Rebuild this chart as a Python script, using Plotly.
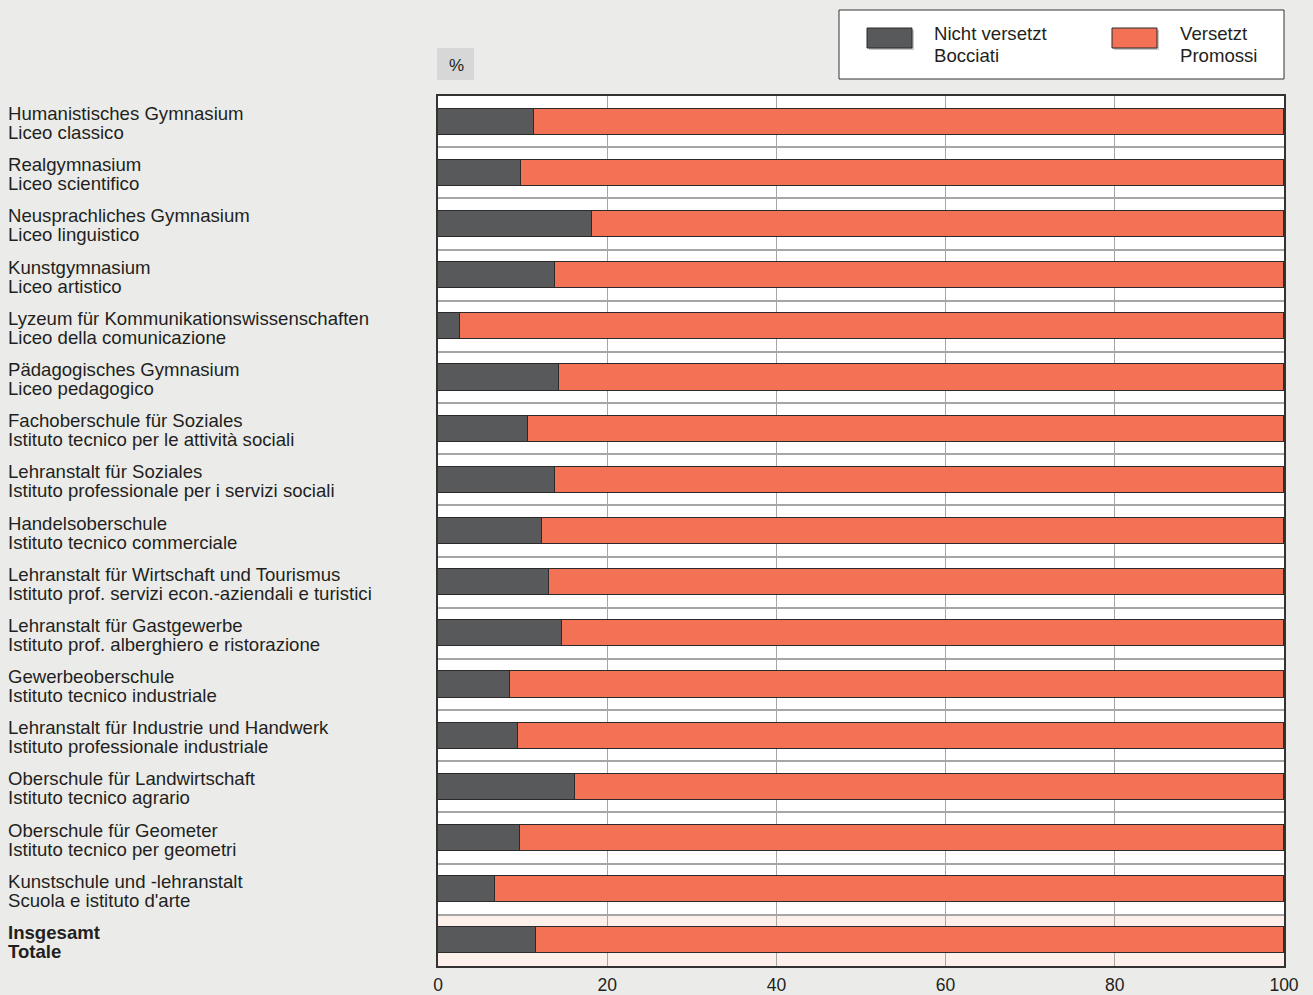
import plotly.graph_objects as go

labels_de = [
    "Humanistisches Gymnasium", "Realgymnasium", "Neusprachliches Gymnasium",
    "Kunstgymnasium", "Lyzeum für Kommunikationswissenschaften",
    "Pädagogisches Gymnasium", "Fachoberschule für Soziales",
    "Lehranstalt für Soziales", "Handelsoberschule",
    "Lehranstalt für Wirtschaft und Tourismus", "Lehranstalt für Gastgewerbe",
    "Gewerbeoberschule", "Lehranstalt für Industrie und Handwerk",
    "Oberschule für Landwirtschaft", "Oberschule für Geometer",
    "Kunstschule und -lehranstalt", "Insgesamt",
]
labels_it = [
    "Liceo classico", "Liceo scientifico", "Liceo linguistico",
    "Liceo artistico", "Liceo della comunicazione", "Liceo pedagogico",
    "Istituto tecnico per le attività sociali",
    "Istituto professionale per i servizi sociali",
    "Istituto tecnico commerciale",
    "Istituto prof. servizi econ.-aziendali e turistici",
    "Istituto prof. alberghiero e ristorazione",
    "Istituto tecnico industriale", "Istituto professionale industriale",
    "Istituto tecnico agrario", "Istituto tecnico per geometri",
    "Scuola e istituto d'arte", "Totale",
]
nicht_versetzt = [11.4, 9.8, 18.2, 13.8, 2.6, 14.3, 10.6, 13.8, 12.3,
                  13.1, 14.7, 8.5, 9.4, 16.2, 9.7, 6.7, 11.6]
versetzt = [round(100 - v, 1) for v in nicht_versetzt]
series_names = [("Nicht versetzt", "Bocciati"), ("Versetzt", "Promossi")]
x_ticks = [0, 20, 40, 60, 80, 100]

GRAY = "#58595b"
ORANGE = "#f37155"
BG = "#ebecea"
TXT = "#231f20"
FONT = "Liberation Sans, Arial, sans-serif"

W, H = 1313, 995
L, R, T, B = 438, 29, 96, 29
PW, PH = W - L - R, H - T - B

def px_x(p):
    return (p - L) / PW

def px_y(p):
    return (H - B - p) / PH

ypos = list(range(len(labels_de)))

fig = go.Figure()
fig.add_trace(go.Bar(
    y=ypos, x=nicht_versetzt, orientation="h", name=series_names[0][0],
    marker=dict(color=GRAY, line=dict(color="#2b2b2b", width=1)),
    width=0.51, showlegend=False, hoverinfo="x",
))
fig.add_trace(go.Bar(
    y=ypos, x=versetzt, orientation="h", name=series_names[1][0],
    marker=dict(color=ORANGE, line=dict(color="#2b2b2b", width=1)),
    width=0.51, showlegend=False, hoverinfo="x",
))

shapes = []
annotations = []

# highlighted total row
n = len(labels_de)
shapes.append(dict(type="rect", xref="x", yref="y", x0=0, x1=100,
                   y0=n - 1.5, y1=n - 0.5, fillcolor="#fdf0ea",
                   line=dict(width=0), layer="below"))

# category labels
for i, (de, it) in enumerate(zip(labels_de, labels_it)):
    bold = i == n - 1
    for txt, sh in ((de, 8), (it, -11)):
        annotations.append(dict(
            xref="paper", yref="y", x=px_x(6), y=i, yshift=sh,
            xanchor="left", yanchor="middle", showarrow=False,
            text=f"<b>{txt}</b>" if bold else txt,
            font=dict(family=FONT, size=18.6, color=TXT),
        ))

# "%" box
shapes.append(dict(type="rect", xref="paper", yref="paper",
                   x0=px_x(437), x1=px_x(474), y0=px_y(80), y1=px_y(48),
                   fillcolor="#d6d7d6", line=dict(width=0)))
annotations.append(dict(xref="paper", yref="paper", x=px_x(456), y=px_y(66),
                        text="%", showarrow=False, xanchor="center",
                        yanchor="middle",
                        font=dict(family=FONT, size=17, color=TXT)))

# legend box
shapes.append(dict(type="rect", xref="paper", yref="paper",
                   x0=px_x(839), x1=px_x(1284), y0=px_y(79), y1=px_y(10),
                   fillcolor="white", line=dict(color="#333333", width=1)))
for (sx, tx), col, (n1, n2) in zip(((867, 932), (1112, 1178)), (GRAY, ORANGE),
                                   series_names):
    shapes.append(dict(type="rect", xref="paper", yref="paper",
                       x0=px_x(sx + 2), x1=px_x(sx + 47), y0=px_y(50),
                       y1=px_y(30), fillcolor="#c8c8c8", line=dict(width=0)))
    shapes.append(dict(type="rect", xref="paper", yref="paper",
                       x0=px_x(sx), x1=px_x(sx + 45), y0=px_y(48), y1=px_y(28),
                       fillcolor=col, line=dict(color="#2b2b2b", width=1)))
    for txt, py in ((n1, 34), (n2, 55)):
        annotations.append(dict(xref="paper", yref="paper", x=px_x(tx),
                                y=px_y(py), text=txt, showarrow=False,
                                xanchor="left", yanchor="middle",
                                font=dict(family=FONT, size=18.6, color=TXT)))

fig.update_layout(
    width=W, height=H, barmode="stack", bargap=0,
    margin=dict(l=L, r=R, t=T, b=B, pad=0),
    paper_bgcolor=BG, plot_bgcolor="white",
    font=dict(family=FONT, size=17, color=TXT),
    shapes=shapes, annotations=annotations,
    xaxis=dict(range=[0, 100], tickvals=x_ticks, showgrid=True,
               gridcolor="#a6a6a6", gridwidth=1, zeroline=False,
               showline=True, linecolor="#333333", linewidth=1.5, mirror=True,
               ticks="", ticklabelstandoff=2, automargin=False,
               tickfont=dict(family=FONT, size=17.5, color=TXT),
               fixedrange=True),
    yaxis=dict(range=[n - 0.5, -0.5], tickvals=[i + 0.5 for i in range(n - 1)],
               showticklabels=False, showgrid=True, gridcolor="#a6a6a6",
               gridwidth=1.5, zeroline=False, showline=True,
               linecolor="#333333", linewidth=1.5, mirror=True, ticks="",
               automargin=False, fixedrange=True),
)

fig.write_html("out.html", config={"displayModeBar": False},
               post_script="document.body.style.margin='0';"
                           "document.body.style.background='#ebecea';")
